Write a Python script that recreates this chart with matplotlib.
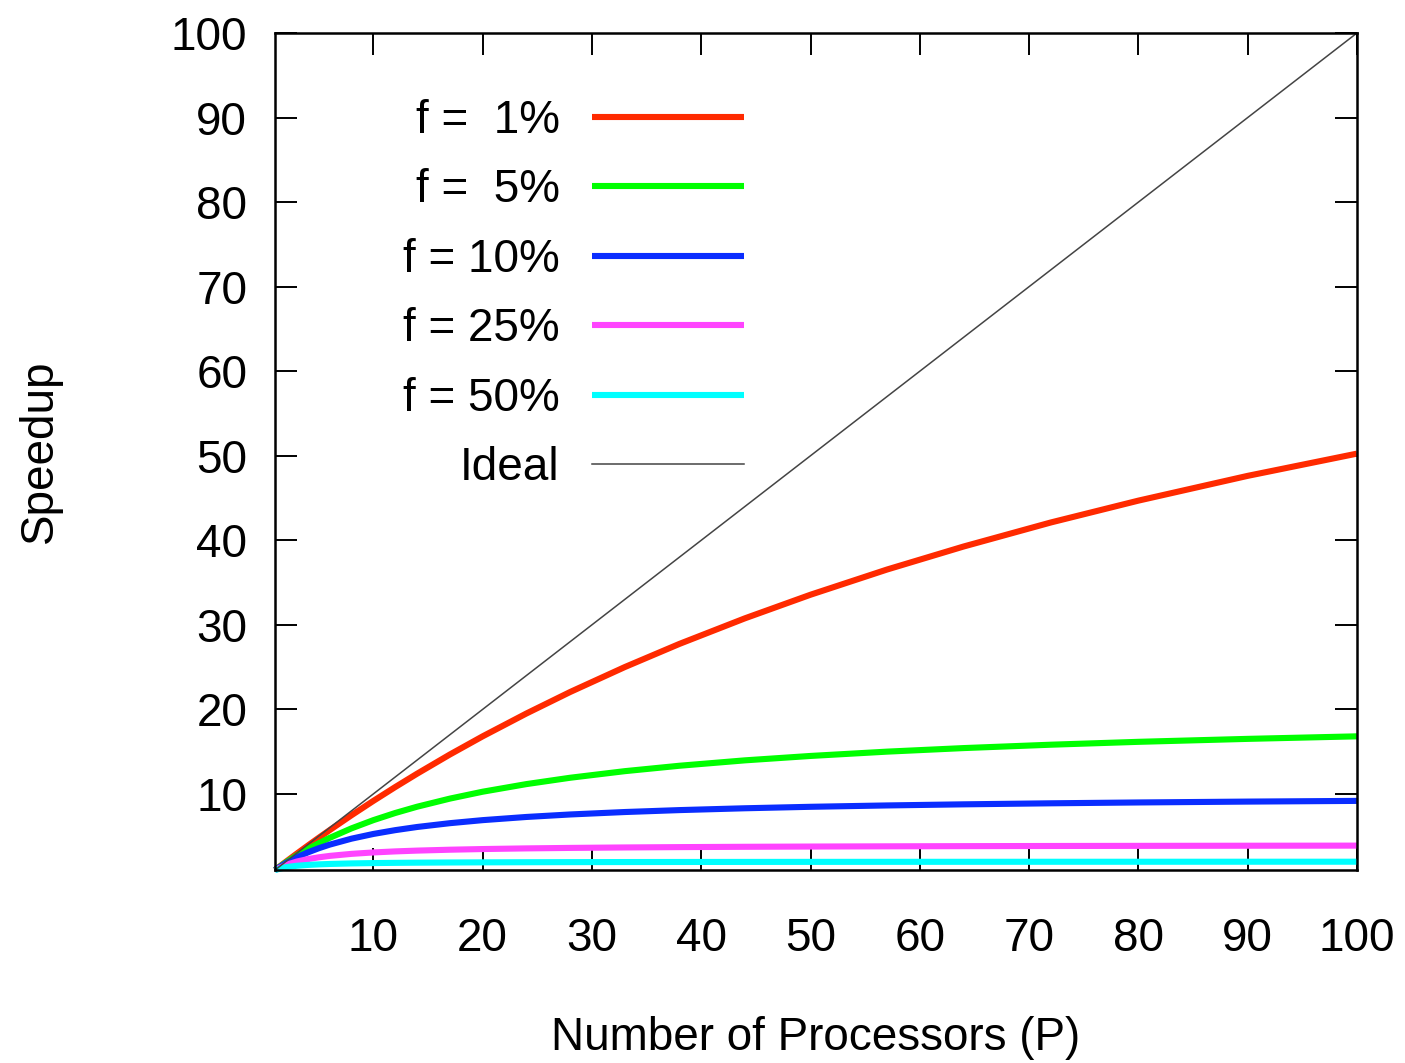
import numpy as np
import matplotlib
matplotlib.use("Agg")
import matplotlib.pyplot as plt

procs = [1, 2, 3, 4, 5, 6, 8, 10, 12, 14, 17, 20, 24, 28, 33, 38, 44, 50,
         57, 64, 72, 80, 90, 100]

speed_f01 = [1, 1.980, 2.941, 3.883, 4.808, 5.714, 7.477, 9.174, 10.81, 12.39,
             14.66, 16.81, 19.51, 22.05, 25.00, 27.74, 30.77, 33.56, 36.54,
             39.26, 42.11, 44.69, 47.62, 50.25]
speed_f05 = [1, 1.905, 2.727, 3.478, 4.167, 4.800, 5.926, 6.897, 7.742, 8.485,
             9.444, 10.26, 11.16, 11.91, 12.69, 13.33, 13.97, 14.49, 15.00,
             15.42, 15.82, 16.16, 16.51, 16.81]
speed_f10 = [1, 1.818, 2.500, 3.077, 3.571, 4.000, 4.706, 5.263, 5.714, 6.087,
             6.538, 6.897, 7.273, 7.568, 7.857, 8.085, 8.302, 8.475, 8.636,
             8.767, 8.889, 8.989, 9.091, 9.174]
speed_f25 = [1, 1.600, 2.000, 2.286, 2.500, 2.667, 2.909, 3.077, 3.200, 3.294,
             3.400, 3.478, 3.556, 3.613, 3.667, 3.707, 3.745, 3.774, 3.800,
             3.821, 3.840, 3.855, 3.871, 3.883]
speed_f50 = [1, 1.333, 1.500, 1.600, 1.667, 1.714, 1.778, 1.818, 1.846, 1.867,
             1.889, 1.905, 1.920, 1.931, 1.941, 1.949, 1.956, 1.961, 1.966,
             1.969, 1.973, 1.975, 1.978, 1.980]
ideal_x = [1, 100]
ideal_y = [1, 100]

labels = ["f =  1%", "f =  5%", "f = 10%", "f = 25%", "f = 50%"]
colors = ["#ff2a00", "#00ff00", "#0a2dff", "#ff44ff", "#00ffff"]
series = [speed_f01, speed_f05, speed_f10, speed_f25, speed_f50]

plt.rcParams["font.family"] = ["Liberation Sans", "DejaVu Sans"]
fs = 33

fig = plt.figure(figsize=(14.05, 10.63), dpi=100)
ax = fig.add_axes([275 / 1405, 1 - 870 / 1063, (1357 - 275) / 1405, (870 - 33) / 1063])

for s, c, lab in zip(series, colors, labels):
    ax.plot(procs, s, color=c, lw=4.4, label=lab, clip_on=False,
            solid_capstyle="butt", solid_joinstyle="round")
ax.plot(ideal_x, ideal_y, color="#444444", lw=1.1, label="Ideal")

ax.set_xlim(1, 100)
ax.set_ylim(1, 100)
ax.set_xticks(np.arange(10, 101, 10))
ax.set_yticks(np.arange(10, 101, 10))
ax.tick_params(direction="in", length=16, width=1.4, labelsize=fs,
               top=True, right=True)
ax.tick_params(axis="x", pad=34)
ax.tick_params(axis="y", pad=20)
for sp in ax.spines.values():
    sp.set_linewidth(1.8)

ax.set_xlabel("Number of Processors (P)", fontsize=fs)
ax.set_ylabel("Speedup", fontsize=fs)
ax.xaxis.set_label_coords(0.5, -0.174)
ax.yaxis.set_label_coords(-0.197, 0.5)

ax.legend(loc="upper right", bbox_to_anchor=(744 / 1405, 0.907),
          bbox_transform=fig.transFigure, frameon=False, fontsize=fs,
          markerfirst=False, handlelength=3.32, handletextpad=0.70,
          labelspacing=0.555, borderpad=0, borderaxespad=0)

fig.savefig("out.png", dpi=100)
